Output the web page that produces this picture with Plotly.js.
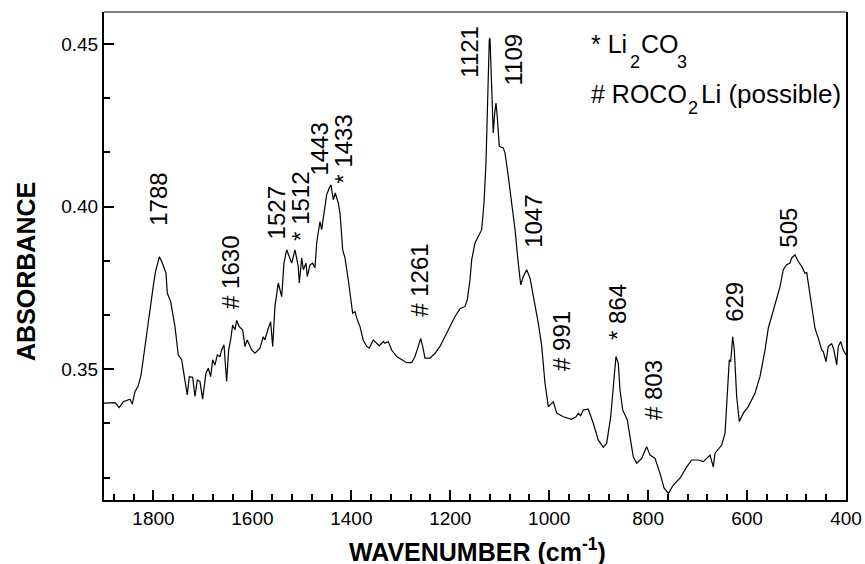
<!DOCTYPE html>
<html>
<head>
<meta charset="utf-8">
<script src="https://cdn.plot.ly/plotly-3.0.1.min.js"></script>
<style>html,body{margin:0;padding:0;background:#fff;}#chart{width:865px;height:564px;}</style>
</head>
<body>
<div id="chart"></div>
<script>
// Wavenumber (cm-1) and absorbance
const wavenumber = [
1900, 1877.8, 1869.1, 1861.0, 1847.5, 1842.8, 1837.4, 1830.7, 1825, 1817,
1806, 1800, 1796, 1792, 1788, 1783.4, 1780.2, 1774.7, 1772.1, 1765.2,
1756.5, 1749.9, 1743.0, 1736.3, 1731.7, 1727.6, 1720.8, 1716.1, 1711.4, 1706.0,
1700.6, 1693.9, 1689.2, 1684.4, 1680.3, 1675.7, 1671.0, 1665.6, 1662.2, 1657.5,
1652.1, 1648.0, 1644.0, 1639.9, 1635.3, 1631.8, 1626.6, 1619.7, 1615.1, 1610.4,
1601.5, 1594.8, 1584.7, 1578.0, 1574.6, 1567.9, 1563.1, 1559.0, 1554.4, 1547.7,
1540.8, 1536.2, 1530.7, 1525.5, 1520.6, 1513.9, 1507.3, 1505.2, 1500.4, 1497.1,
1491.7, 1489.1, 1483.6, 1478.2, 1473.5, 1470.1, 1463.4, 1460.0, 1455.3, 1449.9,
1444.6, 1441.2, 1436.5, 1432.5, 1426.4, 1422.9, 1417.5, 1412.8, 1406.2, 1397.3,
1392.6, 1388.0, 1382.5, 1375.9, 1369.0, 1363.8, 1355.7, 1348.8, 1343.6, 1335.4,
1332.0, 1325.3, 1318.5, 1308.4, 1298.2, 1288.1, 1278.0, 1271.3, 1264.7, 1259.8,
1255.8, 1251.1, 1241.0, 1230.9, 1220.8, 1210.7, 1200.6, 1190.4, 1180.3, 1170.2,
1165.6, 1160.1, 1156.7, 1150.0, 1143.4, 1136.5, 1131.8, 1127.8, 1125.1, 1123.1,
1121.1, 1119.7, 1116.3, 1113.1, 1110.2, 1107.6, 1105.0, 1100.9, 1092.8, 1089.4,
1082.7, 1075.8, 1069.1, 1062.5, 1057.6, 1052.4, 1045.5, 1038.8, 1032.1, 1022.0,
1015.1, 1008.5, 1001.8, 991.7, 984.8, 971.5, 954.5, 945.8, 941.2, 936.3,
931.0, 920.9, 910.9, 900.7, 890.6, 883.8, 875.7, 870.4, 865.0, 860.3,
856.9, 851.4, 842.1, 836.7, 830.0, 823.1, 813.0, 802.9, 796.2, 786.1,
776.0, 767.9, 759.2, 749.1, 735.6, 722.0, 711.9, 698.6, 688.5, 674.9,
668.3, 664.8, 651.3, 644.6, 640.0, 635.9, 633.1, 629.1, 625.8, 621.0,
615.7, 607.6, 597.5, 584.0, 573.9, 563.7, 557.1, 550.2, 540.1, 533.4,
526.8, 519.9, 513.2, 509.8, 503.1, 496.4, 489.6, 482.9, 479.4, 476.2,
469.4, 462.7, 456.0, 449.1, 445.9, 440.4, 435.8, 428.9, 424.3, 418.8,
415.6, 410.7, 405.5, 400
];
const absorbance = [
0.3396, 0.3397, 0.3382, 0.3400, 0.3408, 0.3393, 0.3431, 0.3449, 0.3483, 0.3575,
0.3704, 0.3760, 0.3799, 0.3824, 0.3846, 0.3831, 0.3816, 0.3796, 0.3734, 0.3708,
0.3631, 0.3544, 0.3529, 0.3467, 0.3421, 0.3477, 0.3475, 0.3416, 0.3467, 0.3462,
0.3408, 0.3488, 0.3503, 0.3477, 0.3529, 0.3513, 0.3544, 0.3539, 0.3559, 0.3575,
0.3462, 0.3559, 0.3590, 0.3636, 0.3621, 0.3650, 0.3631, 0.3621, 0.3570, 0.3590,
0.3559, 0.3549, 0.3565, 0.3600, 0.3590, 0.3626, 0.3646, 0.3570, 0.3693, 0.3765,
0.3723, 0.3826, 0.3867, 0.3846, 0.3826, 0.3867, 0.3816, 0.3765, 0.3842, 0.3806,
0.3826, 0.3785, 0.3821, 0.3826, 0.3811, 0.3888, 0.3954, 0.3929, 0.3985, 0.4036,
0.4057, 0.4067, 0.4021, 0.4042, 0.4011, 0.3980, 0.3867, 0.3842, 0.3775, 0.3672,
0.3677, 0.3652, 0.3631, 0.3590, 0.3570, 0.3565, 0.3590, 0.3580, 0.3572, 0.3585,
0.3580, 0.3585, 0.3559, 0.3539, 0.3529, 0.3520, 0.3520, 0.3539, 0.3570, 0.3595,
0.3570, 0.3534, 0.3534, 0.3549, 0.3570, 0.3600, 0.3631, 0.3662, 0.3686, 0.3693,
0.3713, 0.3775, 0.3836, 0.3888, 0.3908, 0.3929, 0.4011, 0.4134, 0.4288, 0.4421,
0.4513, 0.4518, 0.4395, 0.4226, 0.4288, 0.4318, 0.4277, 0.4185, 0.4180, 0.4165,
0.4093, 0.4011, 0.3929, 0.3826, 0.3759, 0.3785, 0.3806, 0.3780, 0.3723, 0.3642,
0.3570, 0.3457, 0.3385, 0.3400, 0.3365, 0.3354, 0.3346, 0.3354, 0.3365, 0.3357,
0.3375, 0.3377, 0.3334, 0.3282, 0.3260, 0.3272, 0.3354, 0.3457, 0.3539, 0.3518,
0.3436, 0.3375, 0.3344, 0.3293, 0.3231, 0.3211, 0.3226, 0.3262, 0.3236, 0.3226,
0.3180, 0.3135, 0.3118, 0.3144, 0.3165, 0.3200, 0.3221, 0.3221, 0.3216, 0.3236,
0.3200, 0.3242, 0.3267, 0.3303, 0.3416, 0.3529, 0.3523, 0.3600, 0.3559, 0.3416,
0.3339, 0.3365, 0.3385, 0.3426, 0.3477, 0.3559, 0.3626, 0.3662, 0.3723, 0.3754,
0.3806, 0.3821, 0.3826, 0.3842, 0.3852, 0.3831, 0.3816, 0.3795, 0.3797, 0.3765,
0.3693, 0.3626, 0.3595, 0.3559, 0.3554, 0.3523, 0.3570, 0.3578, 0.3559, 0.3513,
0.3570, 0.3585, 0.3559, 0.3544
];

// Peak labels (text)
const peakLabels = ["1788", "# 1630", "1527", "* 1512", "1443", "* 1433", "# 1261",
  "1121", "1109", "1047", "# 991", "* 864", "# 803", "629", "505"];
// Legend notes, split into normal text and subscript pieces
const noteLine1 = ["* Li", "2", "CO", "3"];
const noteLine2 = ["# ROCO", "2", "Li (possible)"];
const xTickVals = [1800, 1600, 1400, 1200, 1000, 800, 600, 400];
const yTickVals = [0.35, 0.40, 0.45];
const yTickText = ["0.35", "0.40", "0.45"];

// label placement (label centre, in data coordinates)
const labelPos = [
  [1788.8, 0.4021], [1643.3, 0.3799], [1552.3, 0.3979], [1501.8, 0.4002],
  [1463.4, 0.4178], [1414.8, 0.4175], [1261.2, 0.3775], [1160.1, 0.4476],
  [1071.2, 0.4452], [1030.7, 0.3953], [974.1, 0.3587], [860.9, 0.3676],
  [790.2, 0.3436], [624.4, 0.3707], [515.2, 0.3935]
];
// legend piece placement (paper coords: left x, middle y, font size)
const note1Pos = [[0.655, 0.9342, 25], [0.7075, 0.8985, 18], [0.7224, 0.9342, 25], [0.7709, 0.8985, 18]];
const note2Pos = [[0.655, 0.8316, 25], [0.7857, 0.8027, 18], [0.8032, 0.8324, 26]];

const FONT = 'Arial, "Liberation Sans", sans-serif';

const annotations = peakLabels.map((t, i) => ({
  text: t, x: labelPos[i][0], y: labelPos[i][1], xref: 'x', yref: 'y',
  textangle: -90, showarrow: false, xanchor: 'center', yanchor: 'middle',
  font: {family: FONT, size: 24, color: '#000'}
}));
function addNotes(pieces, pos) {
  pieces.forEach((t, i) => annotations.push({
    text: t, x: pos[i][0], y: pos[i][1], xref: 'paper', yref: 'paper',
    showarrow: false, xanchor: 'left', yanchor: 'middle', borderpad: 0,
    font: {family: FONT, size: pos[i][2], color: '#000'}
  }));
}
addNotes(noteLine1, note1Pos);
addNotes(noteLine2, note2Pos);
annotations.push({
  text: '<b>WAVENUMBER (cm<sup>-1</sup>)</b>', x: 0.504, y: -0.102,
  xref: 'paper', yref: 'paper', showarrow: false, xanchor: 'center', yanchor: 'middle',
  font: {family: FONT, size: 25, color: '#000'}
});
annotations.push({
  text: '<b>ABSORBANCE</b>', x: -0.106, y: 0.468, textangle: -90,
  xref: 'paper', yref: 'paper', showarrow: false, xanchor: 'center', yanchor: 'middle',
  font: {family: FONT, size: 25, color: '#000'}
});

const trace = {
  x: wavenumber, y: absorbance, type: 'scatter', mode: 'lines',
  line: {color: '#000', width: 1.2}, hoverinfo: 'skip', showlegend: false
};

const layout = {
  width: 865, height: 564,
  margin: {l: 104, r: 19, t: 12, b: 64},
  paper_bgcolor: '#fff', plot_bgcolor: '#fff',
  showlegend: false,
  xaxis: {
    range: [1900, 400], autorange: false,
    showgrid: false, zeroline: false,
    showline: true, linecolor: '#000', linewidth: 2,
    ticks: 'inside', ticklen: 10, tickwidth: 2, tickcolor: '#000',
    tickvals: xTickVals, ticktext: xTickVals.map(String),
    tickfont: {family: FONT, size: 19, color: '#000'},
    minor: {dtick: 40, tick0: 400, ticks: 'inside', ticklen: 6, tickwidth: 2, tickcolor: '#000', showgrid: false}
  },
  yaxis: {
    range: [0.3098, 0.4598], autorange: false,
    showgrid: false, zeroline: false,
    showline: true, linecolor: '#000', linewidth: 2, mirror: true,
    ticks: 'inside', ticklen: 10, tickwidth: 2, tickcolor: '#000',
    tickvals: yTickVals, ticktext: yTickText,
    tickfont: {family: FONT, size: 19, color: '#000'},
    minor: {dtick: 0.05/3, tick0: 0.35, ticks: 'inside', ticklen: 6, tickwidth: 2, tickcolor: '#000', showgrid: false}
  },
  shapes: [{type: 'line', xref: 'paper', yref: 'paper', x0: 0, x1: 1, y0: 1, y1: 1,
            line: {color: '#000', width: 1.2}}],
  annotations: annotations
};

Plotly.newPlot('chart', [trace], layout, {staticPlot: true, displayModeBar: false});
</script>
</body>
</html>
